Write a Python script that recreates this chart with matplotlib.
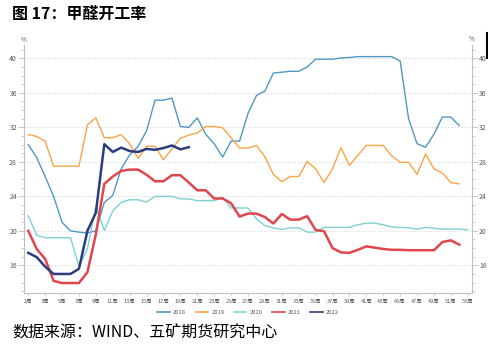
import numpy as np
import matplotlib
matplotlib.use('Agg')
import matplotlib.pyplot as plt
from matplotlib.ticker import MultipleLocator
from matplotlib.lines import Line2D

plt.rcParams['font.family'] = ['Noto Sans CJK SC', 'DejaVu Sans']

# --- データ ---
weeks_2018 = list(range(1, 53))
y2018 = [30.0, 28.5, 26.3, 24.0, 21.0, 20.0, 19.85, 19.75, 20.0, 23.3,
         24.1, 27.2, 28.8, 29.8, 31.6, 35.15, 35.15, 35.4, 32.1, 32.0,
         33.1, 31.2, 30.1, 28.55, 30.4, 30.4, 33.6, 35.7, 36.2, 38.3,
         38.4, 38.5, 38.5, 39.0, 39.9, 39.9, 39.9, 40.05, 40.1, 40.2,
         40.2, 40.2, 40.2, 40.2, 39.7, 33.0, 30.1, 29.7, 31.2, 33.2,
         33.2, 32.2]

weeks_2019 = list(range(1, 53))
y2019 = [31.15, 30.95, 30.4, 27.5, 27.5, 27.5, 27.5, 32.3, 33.1, 30.8,
         30.8, 31.15, 30.1, 28.4, 29.8, 29.8, 28.25, 29.5, 30.75, 31.1,
         31.35, 32.1, 32.1, 31.95, 30.8, 29.6, 29.6, 29.9, 28.6, 26.55,
         25.7, 26.3, 26.3, 28.05, 27.2, 25.6, 27.2, 29.65, 27.6, 28.75,
         29.9, 29.9, 29.9, 28.7, 27.95, 27.95, 26.55, 28.9, 27.2, 26.7,
         25.6, 25.45]

weeks_2020 = list(range(1, 54))
y2020 = [21.75, 19.5, 19.2, 19.2, 19.2, 19.2, 15.9, 17.9, 22.8, 20.05,
         22.3, 23.3, 23.6, 23.6, 23.35, 24.0, 24.0, 24.0, 23.7, 23.7,
         23.5, 23.5, 23.5, 23.9, 22.65, 22.65, 22.65, 21.4, 20.6, 20.35,
         20.15, 20.35, 20.35, 19.85, 19.85, 20.4, 20.4, 20.4, 20.4, 20.7,
         20.9, 20.9, 20.7, 20.45, 20.4, 20.35, 20.2, 20.4, 20.3, 20.2,
         20.2, 20.2, 20.1]

weeks_2021 = list(range(1, 53))
y2021 = [20.0, 17.9, 16.75, 14.2, 13.95, 13.95, 13.95, 15.2, 19.6, 25.45,
         26.3, 26.95, 27.1, 27.1, 26.5, 25.75, 25.75, 26.45, 26.45, 25.6,
         24.7, 24.7, 23.75, 23.75, 23.2, 21.65, 22.0, 22.0, 21.6, 20.85,
         21.95, 21.3, 21.3, 21.7, 20.1, 19.95, 18.0, 17.5, 17.45, 17.8,
         18.2, 18.05, 17.9, 17.8, 17.8, 17.75, 17.75, 17.75, 17.75, 18.7,
         18.9, 18.4]

weeks_2022 = list(range(1, 21))
y2022 = [17.45, 16.95, 15.85, 15.0, 15.0, 15.0, 15.6, 20.0, 22.1, 30.05,
         29.15, 29.65, 29.25, 29.15, 29.5, 29.4, 29.6, 29.9, 29.45, 29.7]

xtick_weeks = list(range(1, 54, 2))
xtick_labels = [f'{w}周' for w in xtick_weeks]

# --- 描画 ---
fig = plt.figure(figsize=(4.89, 3.48), dpi=100)
ax = fig.add_axes([0.0491, 0.157, 0.9161, 0.7137])

ax.plot(weeks_2018, y2018, color='#4f98c4', lw=1.0, label='2018')
ax.plot(weeks_2019, y2019, color='#f8a546', lw=1.0, label='2019')
ax.plot(weeks_2020, y2020, color='#7dd0d2', lw=1.0, label='2020')
ax.plot(weeks_2021, y2021, color='#e0464c', lw=1.8, label='2021')
ax.plot(weeks_2022, y2022, color='#2c3d7e', lw=1.8, label='2022')

ax.set_xlim(0.5, 53.5)
ax.set_ylim(12.75, 41.55)
ax.yaxis.set_minor_locator(MultipleLocator(1))
ax.set_yticks([16, 20, 24, 28, 32, 36, 40])
ax.set_xticks(xtick_weeks)
ax.set_xticklabels(xtick_labels)

ax.grid(axis='y', which='major', color='#d9d9d9', linestyle=(0, (2, 2)), lw=0.6)
for s in ['top', 'right']:
    ax.spines[s].set_visible(False)
for s in ['left', 'bottom']:
    ax.spines[s].set_color('#bfbfbf')
    ax.spines[s].set_linewidth(0.8)

ax.tick_params(axis='y', which='major', labelsize=5, colors='#bfbfbf',
               labelcolor='#595959', length=4, width=0.6, pad=1)
ax.tick_params(axis='y', which='minor', colors='#bfbfbf', length=2, width=0.5)
ax.tick_params(axis='x', labelsize=4, colors='#bfbfbf', labelcolor='#595959',
               length=2, width=0.5, pad=2)

# 右側の軸
ax2 = ax.twinx()
ax2.set_ylim(ax.get_ylim())
ax2.yaxis.set_minor_locator(MultipleLocator(1))
ax2.set_yticks([16, 20, 24, 28, 32, 36, 40])
for s in ['top', 'left', 'bottom']:
    ax2.spines[s].set_visible(False)
ax2.spines['right'].set_color('#bfbfbf')
ax2.spines['right'].set_linewidth(0.8)
ax2.tick_params(axis='y', which='major', labelsize=5, colors='#bfbfbf',
                labelcolor='#595959', length=4, width=0.6, pad=1)
ax2.tick_params(axis='y', which='minor', colors='#bfbfbf', length=2, width=0.5)

fig.text(24 / 489, 1 - 40 / 348, '%', fontsize=4.5, color='#595959', ha='center', va='center')
fig.text(472 / 489, 1 - 39 / 348, '%', fontsize=4.5, color='#595959', ha='center', va='center')

leg = ax.legend(loc='upper center', bbox_to_anchor=(0.5, -0.045), ncol=5,
                frameon=False, fontsize=4.2, handlelength=2.2, handletextpad=0.5,
                columnspacing=1.6)
for t in leg.get_texts():
    t.set_color('#595959')
for h in leg.get_lines():
    h.set_linewidth(1.2)

fig.text(12 / 489, 1 - 14 / 348, '图 17：甲醛开工率', fontsize=11.5,
         fontweight='bold', ha='left', va='center')
fig.text(12 / 489, 1 - 333 / 348, '数据来源：WIND、五矿期货研究中心', fontsize=11.5,
         ha='left', va='center')

# 右上の黒い縦線
fig.add_artist(Line2D([487 / 489, 487 / 489], [1 - 33 / 348, 1 - 58 / 348],
                      color='black', lw=1.5, transform=fig.transFigure))

fig.savefig('out.png', dpi=100)
